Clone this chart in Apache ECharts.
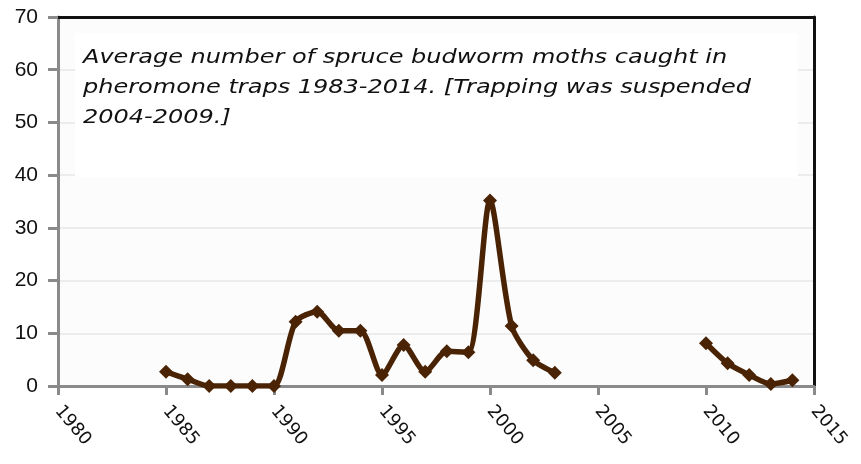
<!DOCTYPE html>
<html>
<head>
<meta charset="utf-8">
<script src="https://cdn.jsdelivr.net/npm/echarts@6/dist/echarts.min.js"></script>
<style>
  html, body { margin: 0; padding: 0; background: #fff; }
  #chart { width: 861px; height: 464px; }
</style>
</head>
<body>
<div id="chart"></div>
<script>
// yearly averages, trapping suspended 2004-2009 (null = no data)
var years = [1985, 1986, 1987, 1988, 1989, 1990, 1991, 1992, 1993, 1994, 1995, 1996, 1997, 1998, 1999,
  2000, 2001, 2002, 2003, 2004, 2005, 2006, 2007, 2008, 2009, 2010, 2011, 2012, 2013, 2014];
var moths = [2.7, 1.3, 0, 0, 0, 0, 12.2, 14.1, 10.5, 10.5, 2.1, 7.8, 2.7, 6.6, 6.4,
  35.2, 11.4, 4.9, 2.5, null, null, null, null, null, null, 8.1, 4.3, 2.1, 0.4, 1.1];
var noteLines = [
  'Average number of spruce budworm moths caught in',
  'pheromone traps 1983-2014. [Trapping was suspended',
  '2004-2009.]'
];

var myChart = echarts.init(document.getElementById('chart'), null, { renderer: 'canvas' });

var points = years.map(function (y, i) {
  return [y, moths[i] === null ? '-' : moths[i]];
});

var option = {
  backgroundColor: '#fff',
  animation: false,
  grid: { left: 58, right: 47, top: 17, bottom: 78, backgroundColor: '#fcfcfc', show: true, borderWidth: 0 },
  xAxis: [
    {
      type: 'value',
      min: 1980,
      max: 2015,
      interval: 5,
      axisLine: { onZero: false, lineStyle: { color: '#8a8a8a', width: 3 } },
      axisTick: { show: true, length: 9, lineStyle: { color: '#8a8a8a', width: 3 } },
      axisLabel: {
        rotate: -50,
        margin: 22,
        color: '#111',
        fontFamily: 'DejaVu Sans',
        fontSize: 18,
        formatter: function (v) { return String(v); }
      },
      splitLine: { show: false }
    },
    {
      type: 'value',
      position: 'top',
      min: 1980,
      max: 2015,
      axisLine: { show: true, onZero: false, lineStyle: { color: '#111', width: 3 } },
      axisTick: { show: false },
      axisLabel: { show: false },
      splitLine: { show: false }
    }
  ],
  yAxis: [
    {
      type: 'value',
      min: 0,
      max: 70,
      interval: 10,
      axisLine: { show: true, onZero: false, lineStyle: { color: '#8a8a8a', width: 3 } },
      axisTick: { show: true, length: 10, lineStyle: { color: '#8a8a8a', width: 3 } },
      axisLabel: {
        margin: 20,
        color: '#111',
        fontFamily: 'Liberation Sans',
        fontSize: 21
      },
      splitLine: { show: true, lineStyle: { color: '#ececec', width: 2 } }
    },
    {
      type: 'value',
      position: 'right',
      min: 0,
      max: 70,
      axisLine: { show: true, onZero: false, lineStyle: { color: '#111', width: 3 } },
      axisTick: { show: false },
      axisLabel: { show: false },
      splitLine: { show: false }
    }
  ],
  graphic: [
    {
      type: 'rect',
      left: 75,
      top: 33,
      shape: { width: 723, height: 144 },
      style: { fill: '#fff' },
      z: 1
    },
    {
      type: 'text',
      x: 83,
      y: 43,
      scaleX: 1.2,
      style: {
        text: noteLines.join('\n'),
        font: 'italic 20px "DejaVu Sans"',
        lineHeight: 30,
        fill: '#111'
      },
      z: 2
    }
  ],
  series: [
    {
      type: 'line',
      data: points,
      connectNulls: false,
      smooth: 0.25,
      symbol: 'diamond',
      symbolSize: 14,
      lineStyle: { color: '#4a2305', width: 5.5 },
      itemStyle: { color: '#4a2305' },
      z: 5
    }
  ]
};

myChart.setOption(option);
</script>
</body>
</html>
